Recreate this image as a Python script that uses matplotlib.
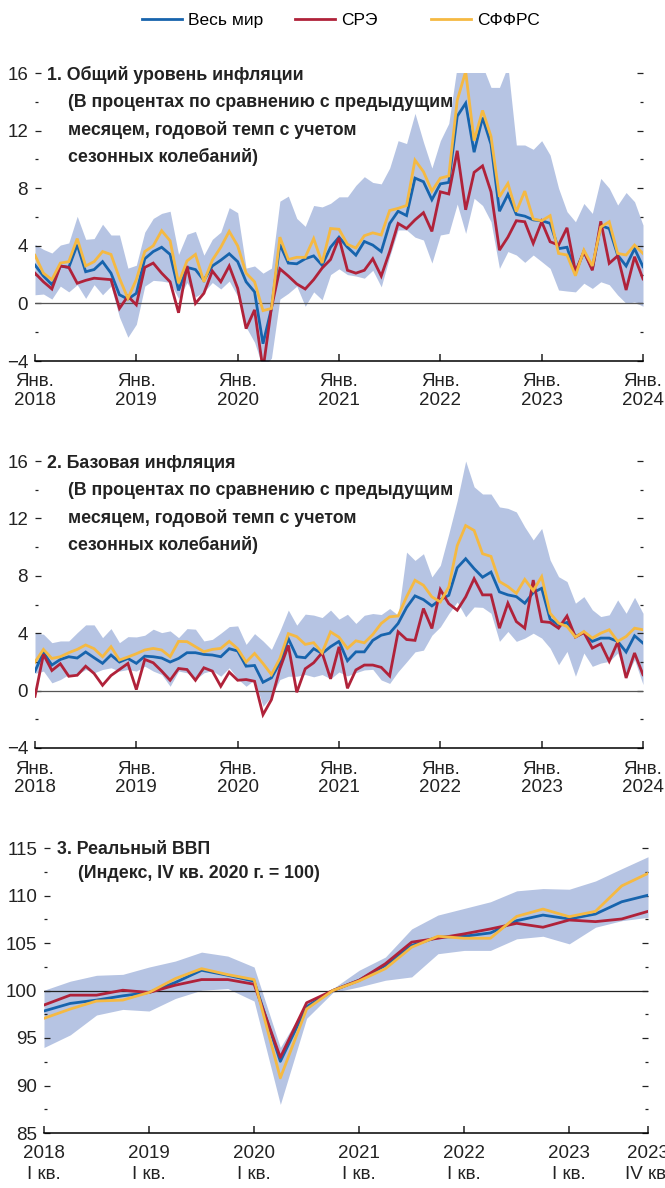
import numpy as np
import matplotlib
matplotlib.use('Agg')
import matplotlib.pyplot as plt
from matplotlib.ticker import MultipleLocator

plt.rcParams['font.family'] = ['Liberation Sans Narrow', 'Liberation Sans', 'DejaVu Sans']

BLUE = '#1764ad'
RED = '#b0223a'
YELLOW = '#f5b942'
BAND = '#b6c4e3'

# ---- data: monthly, Jan 2018 .. Jan 2024 ----
years = ['2018', '2019', '2020', '2021', '2022', '2023', '2024']

# 1. headline inflation
p1_world = [2.66, 1.9, 1.3, 2.6, 2.5, 4.07, 2.2, 2.35, 2.9, 2.1, 0.6, 0.3, 0.7, 3.1, 3.6, 3.9, 3.4, 0.9,
            2.5, 2.35, 1.6, 2.6, 3.0, 3.45, 2.9, 1.5, 0.8, -2.8, -0.35, 4.1, 2.8, 2.75, 3.1, 3.3, 2.65, 3.9,
            4.6, 3.9, 3.35, 4.3, 4.05, 3.6, 5.55, 6.4, 6.1, 8.7, 8.45, 7.2, 8.3, 8.4, 13.0, 13.9, 10.5,
            12.9, 11.05, 6.4, 7.57, 6.18, 6.06, 5.8, 5.74, 5.56, 3.8, 3.9, 2.1, 3.6, 2.4, 5.4, 5.2, 3.35,
            2.6, 3.8, 2.55]
p1_eme = [2.1, 1.5, 1.0, 2.6, 2.5, 1.4, 1.6, 1.75, 1.7, 1.65, -0.35, 0.5, -0.1, 2.5, 2.8, 2.1, 1.5, -0.65,
          2.6, 0.0, 0.7, 2.25, 1.5, 2.6, 1.05, -1.75, -0.45, -4.6, -0.3, 2.4, 1.9, 1.35, 1.0, 1.65, 2.45,
          3.05, 4.55, 2.3, 2.1, 2.3, 3.1, 1.9, 3.6, 5.55, 5.2, 5.8, 6.3, 5.0, 7.75, 7.6, 10.6, 6.5, 9.1,
          9.55, 7.75, 3.7, 4.6, 5.74, 5.67, 4.17, 5.67, 4.28, 4.05, 5.25, 2.2, 3.6, 2.3, 5.7, 2.78, 3.3,
          0.93, 3.24, 1.7]
p1_adv = [3.34, 2.1, 1.65, 2.8, 2.9, 4.5, 2.6, 2.9, 3.6, 3.4, 1.75, 0.35, 1.65, 3.6, 4.0, 5.05, 4.35, 1.4,
          2.95, 3.4, 1.5, 3.0, 3.9, 5.0, 4.0, 2.1, 1.5, -0.5, -0.35, 4.6, 3.05, 3.2, 3.2, 4.5, 2.8, 5.2,
          5.15, 4.1, 3.85, 4.7, 4.9, 4.75, 6.45, 6.6, 6.8, 9.95, 9.15, 7.8, 8.7, 8.85, 14.1, 16.1, 11.3,
          13.4, 11.6, 7.4, 8.33, 6.37, 7.8, 5.86, 5.74, 6.09, 3.47, 3.36, 1.92, 3.7, 2.6, 5.3, 5.67, 3.47,
          3.36, 4.05, 3.47]
p1_hi = [4.1, 3.75, 3.5, 4.05, 4.2, 6.05, 4.45, 4.5, 5.5, 4.75, 4.75, 2.45, 2.65, 4.95, 5.9, 6.25, 6.4, 3.4,
         4.8, 5.0, 3.35, 4.45, 4.95, 6.65, 6.3, 2.45, 2.6, 2.1, 2.45, 7.1, 7.45, 5.9, 5.35, 6.8, 6.7, 6.95,
         7.4, 7.4, 8.2, 8.8, 8.4, 8.3, 9.4, 11.3, 11.1, 13.2, 11.2, 9.4, 11.3, 12.5, 16.5, 17.0, 17.0,
         16.5, 15.0, 15.0, 16.5, 11.0, 11.0, 10.7, 11.3, 10.3, 8.0, 6.37, 5.67, 6.94, 6.25, 8.68, 8.0,
         6.83, 7.7, 7.06, 5.44]
p1_lo = [0.6, 0.65, 0.3, 1.2, 0.8, 1.3, 0.35, 1.3, 0.6, 1.2, -0.95, -2.35, -1.45, 1.2, 1.6, 1.55, 1.45, 0.35,
         1.45, 0.45, 0.8, 1.45, 1.0, 1.55, 0.5, -1.65, -2.7, -4.5, -3.8, 0.3, 0.7, 1.2, -0.2, 0.8, 0.25,
         2.0, 2.4, 2.0, 1.9, 1.75, 2.3, 1.15, 3.25, 5.1, 5.1, 4.6, 4.4, 2.8, 4.75, 4.86, 6.9, 4.86, 7.3,
         6.8, 5.67, 2.43, 3.6, 3.36, 2.85, 3.36, 2.9, 2.43, 0.93, 0.86, 0.8, 1.4, 1.04, 1.5, 1.3, 0.58,
         0.0, 0.1, -0.2]

# 2. core inflation
p2_world = [1.35, 2.65, 1.78, 2.17, 2.36, 2.27, 2.69, 2.29, 1.9, 2.48, 1.99, 2.24, 1.9, 2.4, 2.36, 2.27,
            1.99, 2.24, 2.64, 2.64, 2.52, 2.48, 2.36, 2.92, 2.76, 1.7, 1.75, 0.58, 0.89, 1.94, 3.62, 2.36,
            2.29, 2.92, 2.59, 3.06, 3.43, 2.08, 2.7, 2.7, 3.5, 3.86, 4.0, 4.68, 5.79, 6.6, 6.34, 5.9, 6.34,
            6.64, 8.56, 9.19, 8.5, 7.9, 8.26, 6.88, 6.67, 6.55, 6.09, 6.83, 7.13, 4.98, 4.58, 4.75, 3.77,
            4.05, 3.43, 3.66, 3.66, 3.43, 2.69, 3.82, 3.31]
p2_eme = [-0.4, 2.52, 1.4, 1.87, 1.0, 1.07, 1.7, 1.19, 0.37, 1.05, 1.47, 1.89, 0.07, 2.17, 1.94, 1.36, 0.72,
          1.54, 1.47, 0.72, 1.59, 1.36, 0.3, 1.29, 0.72, 0.77, 0.65, -1.68, -0.63, 1.52, 3.15, -0.12,
          1.52, 1.94, 2.64, 0.82, 3.05, 0.16, 1.44, 1.78, 1.78, 1.62, 1.02, 4.1, 3.56, 3.5, 5.72, 4.33,
          7.04, 6.06, 5.6, 6.53, 7.8, 6.67, 6.67, 4.35, 6.09, 4.81, 4.35, 7.7, 4.81, 4.75, 4.35, 5.2,
          3.73, 4.05, 2.96, 3.26, 2.04, 3.38, 0.88, 2.62, 1.11]
p2_adv = [1.99, 2.87, 2.24, 2.36, 2.64, 2.87, 3.18, 2.92, 2.36, 3.06, 2.13, 2.34, 2.57, 2.83, 2.94, 2.83,
          2.36, 3.43, 3.41, 3.06, 2.71, 2.87, 2.94, 3.43, 2.92, 1.99, 2.59, 1.89, 1.12, 2.24, 3.97, 3.76,
          3.22, 3.34, 2.64, 4.09, 3.72, 2.94, 3.47, 3.33, 3.91, 4.68, 5.14, 5.2, 6.53, 7.69, 7.34, 6.53,
          6.18, 7.22, 10.1, 11.5, 11.16, 9.54, 9.35, 7.6, 7.25, 6.78, 7.75, 6.97, 7.94, 5.39, 4.7, 4.47,
          3.73, 4.12, 3.66, 4.0, 4.24, 3.43, 3.77, 4.35, 4.24]
p2_hi = [4.0, 3.93, 3.34, 3.46, 3.46, 4.04, 4.58, 4.58, 3.69, 4.32, 3.34, 3.76, 3.74, 3.86, 4.28, 4.04, 4.16,
         3.69, 4.32, 4.28, 3.46, 3.57, 4.0, 4.46, 4.51, 3.22, 3.97, 3.46, 2.87, 4.16, 5.61, 4.56, 5.33,
         5.26, 5.09, 5.61, 4.98, 5.32, 4.68, 5.25, 5.37, 5.3, 5.72, 5.25, 9.65, 9.07, 9.54, 7.92, 8.73,
         10.93, 13.24, 16.0, 14.2, 13.7, 13.7, 12.8, 12.7, 12.45, 11.4, 10.5, 11.3, 9.1, 7.94, 7.6, 6.09,
         6.55, 5.63, 5.16, 5.28, 6.32, 5.39, 6.5, 5.39]
p2_lo = [1.2, 1.36, 0.54, 0.77, 1.12, 1.12, 1.47, 1.24, 1.47, 1.59, 1.36, 1.47, 1.36, 1.7, 1.36, 1.12, 0.3,
         1.36, 1.24, 0.77, 1.24, 1.4, 1.0, 1.59, 0.82, 0.3, 0.77, -1.1, -0.4, 0.77, 1.0, 1.0, 1.12, 0.96,
         1.12, 0.82, 1.3, 1.02, 1.25, 1.44, 1.48, 0.74, 0.5, 1.32, 2.0, 2.7, 2.82, 3.86, 4.44, 5.37, 6.18,
         5.14, 5.83, 5.8, 5.39, 3.43, 4.12, 3.43, 3.66, 4.0, 3.66, 2.96, 1.8, 2.73, 1.0, 2.62, 1.69, 1.92,
         2.04, 2.62, 1.0, 2.15, 0.42]

# 3. real GDP, quarterly 2018Q1 .. 2023Q4
gdp_labels = ['2018\nI кв.', '2019\nI кв.', '2020\nI кв.', '2021\nI кв.', '2022\nI кв.', '2023\nI кв.',
              '2023\nIV кв.']
gdp_label_q = [0, 4, 8, 12, 16, 20, 23]
p3_world = [97.84, 98.64, 98.99, 99.44, 99.79, 100.84, 102.13, 101.6, 100.98, 92.54, 98.29, 100.0,
            101.08, 102.65, 104.74, 105.61, 105.71, 106.06, 107.35, 107.94, 107.53, 108.05, 109.34, 110.03]
p3_eme = [98.47, 99.51, 99.51, 100.03, 99.79, 100.56, 101.15, 101.15, 100.66, 92.96, 98.71, 100.0,
          101.08, 102.82, 105.09, 105.5, 105.96, 106.48, 107.07, 106.66, 107.42, 107.25, 107.53, 108.33]
p3_adv = [97.07, 98.05, 98.89, 98.99, 99.79, 101.25, 102.3, 101.67, 101.15, 90.8, 98.05, 100.0,
          101.01, 102.3, 104.56, 105.71, 105.5, 105.5, 107.8, 108.57, 107.77, 108.33, 111.01, 112.33]
p3_hi = [100.03, 100.98, 101.6, 101.7, 102.47, 103.1, 104.04, 103.62, 102.47, 94.0, 98.64, 100.2,
         102.13, 103.52, 106.48, 107.94, 108.64, 109.34, 110.49, 110.73, 110.66, 111.53, 112.82, 114.08]
p3_lo = [94.0, 95.33, 97.42, 98.01, 97.84, 99.16, 100.03, 100.2, 98.89, 88.01, 97.07, 99.79,
         100.38, 101.08, 101.43, 103.87, 104.22, 104.22, 105.44, 105.71, 104.91, 106.66, 107.35, 107.7]

names = ['Весь мир', 'СРЭ', 'СФФРС']

FS = 13.5


def style(ax, ymaj, ymin):
    for s in ['left', 'right', 'top']:
        ax.spines[s].set_visible(False)
    ax.spines['bottom'].set_linewidth(1.1)
    ax.yaxis.set_major_locator(MultipleLocator(ymaj))
    ax.yaxis.set_minor_locator(MultipleLocator(ymin))
    ax.tick_params(axis='y', which='major', direction='in', length=4.5, width=0.9,
                   left=True, right=True, labelsize=FS, pad=5, colors='#222222')
    ax.tick_params(axis='y', which='minor', direction='in', length=2, width=0.9,
                   left=True, right=True, colors='#222222')
    ax.tick_params(axis='x', which='major', direction='in', length=5, width=1.1,
                   labelsize=FS, pad=9, colors='#222222')
    ax.tick_params(axis='x', which='minor', bottom=False)


def monthly(ax, world, eme, adv, hi, lo, title):
    x = np.arange(len(world))
    ax.fill_between(x, lo, hi, color=BAND, lw=0)
    ax.axhline(0, color='#555555', lw=0.9)
    lines = []
    for y, c in [(world, BLUE), (eme, RED), (adv, YELLOW)]:
        l, = ax.plot(x, y, color=c, lw=2.0, solid_joinstyle='miter')
        lines.append(l)
    ax.set_xlim(0, 72)
    ax.set_ylim(-4, 16)
    style(ax, 4, 2)
    ax.set_xticks(np.arange(0, 73, 12))
    ax.set_xticklabels(['Янв.\n' + y for y in years], linespacing=1.15)
    ax.text(0.0195, 0.993, title, transform=ax.transAxes, fontsize=12.8,
            fontweight='bold', va='center', ha='left', color='#222222')
    sub = ['(В процентах по сравнению с предыдущим', 'месяцем, годовой темп с учетом',
           'сезонных колебаний)']
    for k, s in enumerate(sub):
        ax.text(0.0545, 0.896 - k * 0.094, s, transform=ax.transAxes, fontsize=12.8,
                fontweight='bold', va='center', ha='left', color='#222222')
    return lines


fig = plt.figure(figsize=(6.65, 11.88), dpi=100)

ax1 = fig.add_axes([35 / 665, 1 - 361 / 1188, 608 / 665, 288 / 1188])
lines = monthly(ax1, p1_world, p1_eme, p1_adv, p1_hi, p1_lo, '1. Общий уровень инфляции')

ax2 = fig.add_axes([35 / 665, 1 - 748 / 1188, 608 / 665, 287 / 1188])
monthly(ax2, p2_world, p2_eme, p2_adv, p2_hi, p2_lo, '2. Базовая инфляция')

ax3 = fig.add_axes([44 / 665, 1 - 1133 / 1188, 604 / 665, 285 / 1188])
q = np.arange(len(p3_world))
ax3.fill_between(q, p3_lo, p3_hi, color=BAND, lw=0)
ax3.axhline(100, color='#222222', lw=0.9)
for y, c in [(p3_world, BLUE), (p3_eme, RED), (p3_adv, YELLOW)]:
    ax3.plot(q, y, color=c, lw=2.0)
ax3.set_xlim(0, 23)
ax3.set_ylim(85, 115)
style(ax3, 5, 2.5)
ax3.set_xticks(gdp_label_q)
ax3.set_xticklabels(gdp_labels, linespacing=1.25)
ax3.text(0.0215, 0.993, '3. Реальный ВВП', transform=ax3.transAxes, fontsize=12.8,
         fontweight='bold', va='center', ha='left', color='#222222')
ax3.text(0.0563, 0.909, '(Индекс, IV кв. 2020 г. = 100)', transform=ax3.transAxes, fontsize=12.8,
         fontweight='bold', va='center', ha='left', color='#222222')

# legend: three entries placed along the top
for l, n, xpos in zip(lines, names, [142, 295, 431]):
    fig.legend([l], [n], loc='center left', bbox_to_anchor=(xpos / 665, 1 - 20 / 1188),
               frameon=False, fontsize=12.5, handlelength=2.3, handletextpad=0.35,
               borderpad=0, borderaxespad=0)

fig.savefig('out.png', dpi=100)
